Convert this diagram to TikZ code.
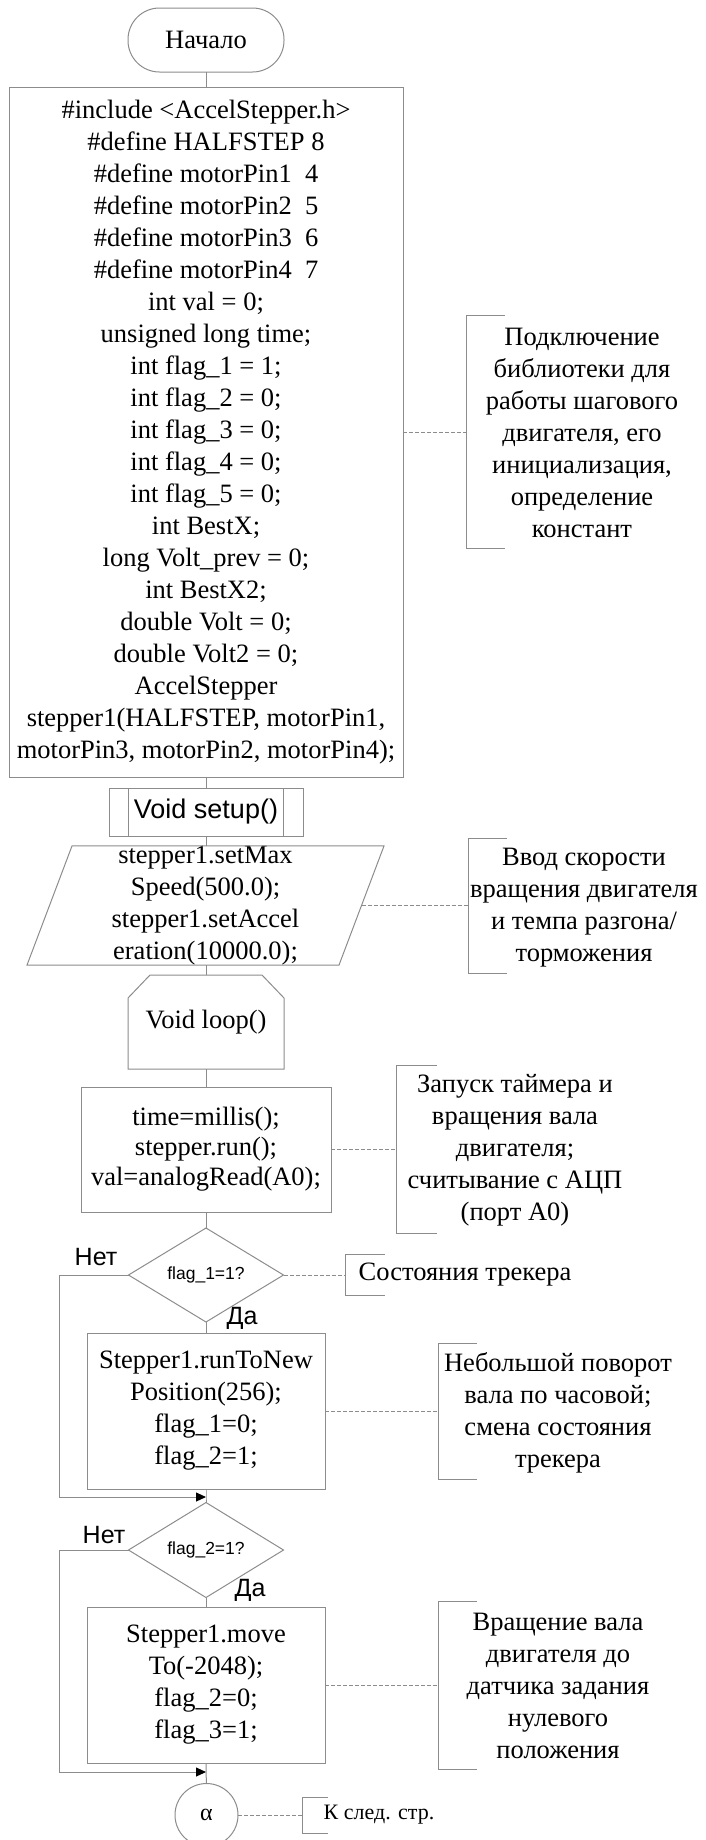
\documentclass[tikz,border=0pt]{standalone}
\usepackage{fontspec}
\setmainfont{Liberation Serif}
\newfontfamily\arialf{Liberation Sans}
\usetikzlibrary{shapes.geometric,arrows.meta,calc}
\definecolor{lc}{RGB}{140,140,140}
\tikzset{
  base/.style={line width=1pt, inner sep=0pt, outer sep=0pt, text=black, align=center,
    font=\fontsize{26.5}{32}\selectfont},
  line/.style={draw=lc, line width=1pt},
  procbox/.style={base, rectangle, draw=lc},
  term/.style={base, rectangle, draw=lc, rounded corners=31.5pt},
  dec/.style={base, diamond, draw=lc, font=\arialf\fontsize{17.5}{20}\selectfont},
  anntext/.style={base},
  brk/.style={base, rectangle, draw=none},
  dotl/.style={draw=lc, line width=1pt, dash pattern=on 4pt off 2pt},
  arr/.style={-{Triangle[length=10pt,width=9pt,color=black]}},
  yn/.style={base, font=\arialf\fontsize{25}{28}\selectfont},
}
\begin{document}
\begin{tikzpicture}[x=1pt,y=-1pt]
\useasboundingbox (0,0) rectangle (706,1840);

% main column
\node[term, minimum width=156pt, minimum height=64pt] (start) at (206,40) {Начало};

\node[procbox, minimum width=394pt, minimum height=690pt] (init) at (206,432) {%
\#include <AccelStepper.h>\\
\#define HALFSTEP 8\\
\#define motorPin1~~4\\
\#define motorPin2~~5\\
\#define motorPin3~~6\\
\#define motorPin4~~7\\
int val = 0;\\
unsigned long time;\\
int flag\_1 = 1;\\
int flag\_2 = 0;\\
int flag\_3 = 0;\\
int flag\_4 = 0;\\
int flag\_5 = 0;\\
int BestX;\\
long Volt\_prev = 0;\\
int BestX2;\\
double Volt = 0;\\
double Volt2 = 0;\\
AccelStepper\\
stepper1(HALFSTEP, motorPin1,\\
motorPin3, motorPin2, motorPin4);};

\node[procbox, font=\arialf\fontsize{27}{32}\selectfont, minimum width=194pt, minimum height=48pt] (setup) at (206,812) {Void setup()};
\draw[line] ([xshift=19.5pt]setup.north west) -- ([xshift=19.5pt]setup.south west);
\draw[line] ([xshift=-19.5pt]setup.north east) -- ([xshift=-19.5pt]setup.south east);

\node[base, minimum width=312pt, minimum height=119pt] (inp) at (205.5,905.5)
  {stepper1.setMax\\Speed(500.0);\\stepper1.setAccel\\eration(10000.0);};
\draw[line] ([xshift=22.5pt]inp.north west) -- ([xshift=22.5pt]inp.north east)
  -- ([xshift=-22.5pt]inp.south east) -- ([xshift=-22.5pt]inp.south west) -- cycle;

\node[base, minimum width=156pt, minimum height=94pt] (loop) at (206,1022) {Void loop()};
\draw[line] (loop.south west) -- ($(loop.north west)+(0,23)$) -- ($(loop.north west)+(22,0)$)
  -- ($(loop.north east)+(-22,0)$) -- ($(loop.north east)+(0,23)$) -- (loop.south east) -- cycle;

\node[procbox, font=\fontsize{26.5}{30}\selectfont, minimum width=250pt, minimum height=125pt] (p1) at (206,1149.5)
  {time=millis();\\stepper.run();\\val=analogRead(A0);};

\node[dec, minimum width=155pt, minimum height=94pt] (d1) at (206,1275) {flag\_1=1?};

\node[procbox, minimum width=238pt, minimum height=156pt] (p2) at (206,1411)
  {Stepper1.runToNew\\Position(256);\\flag\_1=0;\\flag\_2=1;};

\coordinate (m1) at (206,1497);
\coordinate (c1) at (59,1497);

\node[dec, minimum width=155pt, minimum height=95pt] (d2) at (206,1550) {flag\_2=1?};

\node[procbox, minimum width=238pt, minimum height=156pt] (p3) at (206,1685)
  {Stepper1.move\\To(-2048);\\flag\_2=0;\\flag\_3=1;};

\coordinate (m2) at (206,1772);
\coordinate (c2) at (59,1772);

\node[base, circle, draw=lc, minimum size=63pt, font=\fontsize{24}{28}\selectfont] (alpha) at (206.5,1815) {α};

% connectors
\draw[line] (start) -- (init);
\draw[line] (init) -- (setup);
\draw[line] (setup.south) -- (setup.south |- inp.north);
\draw[line] (setup.south |- inp.south) -- (loop.north);
\draw[line] (loop) -- (p1);
\draw[line] (p1) -- (d1);
\draw[line] (d1) -- (p2);
\draw[line] (p2.south) -- (m1) -- (d2.north);
\draw[line, arr] (d1.west) -| (c1) -- (m1);
\draw[line] (d2) -- (p3);
\draw[line] (p3.south) -- (m2) -- (alpha.north);
\draw[line, arr] (d2.west) -| (c2) -- (m2);

% yes/no labels
\node[yn] (n1) at (96,1257) {Нет};
\node[yn] (y1) at (242,1318) {Да};
\node[yn] (n2) at (104,1535) {Нет};
\node[yn] (y2) at (250,1590) {Да};

% annotations
\node[brk, minimum width=39pt, minimum height=233pt] (b1) at (485.5,432) {};
\draw[line] (b1.north east) -- (b1.north west) -- (b1.south west) -- (b1.south east);
\draw[dotl] (init.east) -- (b1.west);
\node[anntext] (t1) at (582,432.5) {Подключение\\библиотеки для\\работы шагового\\двигателя, его\\инициализация,\\определение\\констант};

\node[brk, minimum width=39pt, minimum height=135pt] (b2) at (487.5,905.5) {};
\draw[line] (b2.north east) -- (b2.north west) -- (b2.south west) -- (b2.south east);
\draw[dotl] (inp.east) -- (b2.west);
\node[anntext] (t2) at (584,907.5) {Ввод скорости\\вращения двигателя\\и темпа разгона/\\торможения};

\node[brk, minimum width=41pt, minimum height=168pt] (b3) at (416.5,1149.5) {};
\draw[line] (b3.north east) -- (b3.north west) -- (b3.south west) -- (b3.south east);
\draw[dotl] (p1.east) -- (b3.west);
\node[anntext] (t3) at (515,1150.5) {Запуск таймера и\\вращения вала\\двигателя;\\считывание с АЦП\\(порт А0)};

\node[brk, minimum width=40pt, minimum height=41pt] (b4) at (365,1275) {};
\draw[line] (b4.north east) -- (b4.north west) -- (b4.south west) -- (b4.south east);
\draw[dotl] (d1.east) -- (b4.west);
\node[anntext] (t4) at (465,1275) {Состояния трекера};

\node[brk, minimum width=39pt, minimum height=136pt] (b5) at (457.5,1411) {};
\draw[line] (b5.north east) -- (b5.north west) -- (b5.south west) -- (b5.south east);
\draw[dotl] (p2.east) -- (b5.west);
\node[anntext] (t5) at (558,1412.5) {Небольшой поворот\\вала по часовой;\\смена состояния\\трекера};

\node[brk, minimum width=39pt, minimum height=168pt] (b6) at (457.5,1685) {};
\draw[line] (b6.north east) -- (b6.north west) -- (b6.south west) -- (b6.south east);
\draw[dotl] (p3.east) -- (b6.west);
\node[anntext] (t6) at (558,1685.5) {Вращение вала\\двигателя до\\датчика задания\\нулевого\\положения};

\node[brk, minimum width=26pt, minimum height=36pt] (b7) at (315,1815) {};
\draw[line] (b7.north east) -- (b7.north west) -- (b7.south west) -- (b7.south east);
\draw[dotl] (alpha.east) -- (b7.west);
\node[anntext, font=\fontsize{22}{26}\selectfont] (t7) at (379,1815) {К след. стр.};
\end{tikzpicture}
\end{document}
